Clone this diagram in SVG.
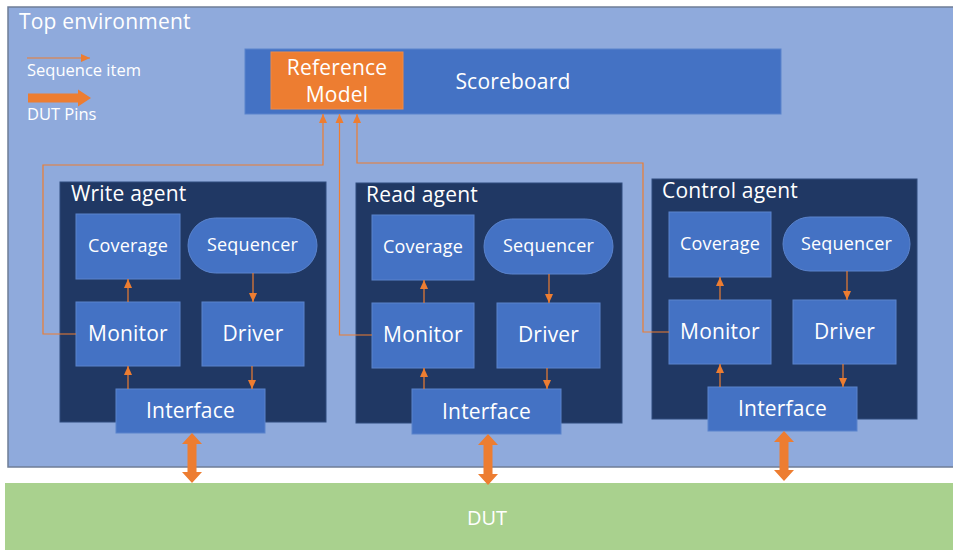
<svg xmlns="http://www.w3.org/2000/svg" width="953" height="550" viewBox="0 0 953 550">
  <style>
    text { font-family: "Open Sans", "Noto Sans", "Liberation Sans", sans-serif; fill: #ffffff; }
    .env { fill: #8FAADC; stroke: #6F7D97; stroke-width: 1.5; }
    .dut { fill: #A9D18E; }
    .agent { fill: #203864; stroke: #2F4B7C; stroke-width: 1; }
    .box { fill: #4472C4; stroke: #5A83CC; stroke-width: 1; }
    .ref { fill: #ED7D31; stroke: #F08A45; stroke-width: 1; }
    .title { font-size: 21px; letter-spacing: 0.2px; }
    .lbl { font-size: 21px; text-anchor: middle; letter-spacing: 0.2px; }
    .sm { font-size: 18px; text-anchor: middle; letter-spacing: 0.2px; }
    .leg { font-size: 16.5px; }
    .wire { fill: none; stroke: #ED7D31; stroke-width: 1.2; }
    .pin { fill: #ED7D31; }
  </style>
  <defs>
    <marker id="head" markerUnits="userSpaceOnUse" markerWidth="10" markerHeight="10" viewBox="0 0 10 10" refX="9" refY="5" orient="auto">
      <path d="M0,1 L9,5 L0,9 Z" fill="#ED7D31"/>
    </marker>
  </defs>

  <!-- DUT -->
  <g id="dut">
    <rect class="dut" x="5" y="483" width="960" height="70"/>
    <text x="487" y="525" style="font-size:20px;text-anchor:middle">DUT</text>
  </g>

  <!-- Top environment -->
  <g id="top-env">
    <rect class="env" x="8" y="7" width="960" height="460"/>
    <text class="title" x="19" y="29">Top environment</text>
  </g>

  <!-- Legend -->
  <g id="legend">
    <line class="wire" x1="27" y1="58" x2="90" y2="58" marker-end="url(#head)"/>
    <text class="leg" x="27" y="76">Sequence item</text>
    <polygon class="pin" points="28,93.5 78,93.5 78,89.5 91,98 78,106.5 78,102.5 28,102.5"/>
    <text class="leg" x="27" y="120">DUT Pins</text>
  </g>

  <!-- Scoreboard -->
  <g id="scoreboard">
    <rect class="box" x="245" y="49" width="536" height="65"/>
    <text class="lbl" x="513" y="89">Scoreboard</text>
  </g>
  <g id="reference-model">
    <rect class="ref" x="271" y="52" width="132" height="57"/>
    <text class="lbl" x="337" y="75">Reference</text>
    <text class="lbl" x="337" y="102">Model</text>
  </g>

  <!-- Write agent -->
  <g id="write-agent">
    <rect class="agent" x="60" y="182" width="266" height="240"/>
    <text class="title" x="71" y="201">Write agent</text>
  </g>
  <g id="write-coverage">
    <rect class="box" x="76" y="214" width="104" height="65"/>
    <text class="sm" x="128" y="252">Coverage</text>
  </g>
  <g id="write-sequencer">
    <rect class="box" x="188" y="218" width="129" height="55" rx="27.5"/>
    <text class="sm" x="252.5" y="251">Sequencer</text>
  </g>
  <g id="write-monitor">
    <rect class="box" x="76" y="302" width="104" height="64"/>
    <text class="lbl" x="128" y="341">Monitor</text>
  </g>
  <g id="write-driver">
    <rect class="box" x="202" y="302" width="102" height="64"/>
    <text class="lbl" x="253" y="341">Driver</text>
  </g>
  <g id="write-interface">
    <rect class="box" x="116" y="389" width="149" height="44"/>
    <text class="lbl" x="190.5" y="418">Interface</text>
  </g>

  <!-- Read agent -->
  <g id="read-agent">
    <rect class="agent" x="356" y="183" width="266" height="240"/>
    <text class="title" x="366" y="202">Read agent</text>
  </g>
  <g id="read-coverage">
    <rect class="box" x="372" y="215" width="102" height="65"/>
    <text class="sm" x="423" y="253">Coverage</text>
  </g>
  <g id="read-sequencer">
    <rect class="box" x="484" y="219" width="129" height="55" rx="27.5"/>
    <text class="sm" x="548.5" y="252">Sequencer</text>
  </g>
  <g id="read-monitor">
    <rect class="box" x="372" y="303" width="102" height="65"/>
    <text class="lbl" x="423" y="342">Monitor</text>
  </g>
  <g id="read-driver">
    <rect class="box" x="497" y="303" width="103" height="65"/>
    <text class="lbl" x="548.5" y="342">Driver</text>
  </g>
  <g id="read-interface">
    <rect class="box" x="412" y="389" width="149" height="45"/>
    <text class="lbl" x="486.5" y="419">Interface</text>
  </g>

  <!-- Control agent -->
  <g id="control-agent">
    <rect class="agent" x="652" y="179" width="265" height="240"/>
    <text class="title" x="662" y="198">Control agent</text>
  </g>
  <g id="control-coverage">
    <rect class="box" x="669" y="212" width="102" height="65"/>
    <text class="sm" x="720" y="250">Coverage</text>
  </g>
  <g id="control-sequencer">
    <rect class="box" x="783" y="217" width="127" height="54" rx="27"/>
    <text class="sm" x="846.5" y="250">Sequencer</text>
  </g>
  <g id="control-monitor">
    <rect class="box" x="669" y="300" width="102" height="64"/>
    <text class="lbl" x="720" y="339">Monitor</text>
  </g>
  <g id="control-driver">
    <rect class="box" x="793" y="300" width="103" height="64"/>
    <text class="lbl" x="844.5" y="339">Driver</text>
  </g>
  <g id="control-interface">
    <rect class="box" x="708" y="387" width="149" height="44"/>
    <text class="lbl" x="782.5" y="416">Interface</text>
  </g>

  <!-- Connectors -->
  <g id="connectors">
    <!-- monitors to scoreboard -->
    <path class="wire" d="M76,334 H43 V165 H323 V114" marker-end="url(#head)"/>
    <path class="wire" d="M372,335 H339.5 V114" marker-end="url(#head)"/>
    <path class="wire" d="M669,332 H643 V163 H357 V114" marker-end="url(#head)"/>

    <!-- write agent -->
    <path class="wire" d="M128,302 V279" marker-end="url(#head)"/>
    <path class="wire" d="M253,273 V302" marker-end="url(#head)"/>
    <path class="wire" d="M128,389 V366" marker-end="url(#head)"/>
    <path class="wire" d="M252,366 V389" marker-end="url(#head)"/>

    <!-- read agent -->
    <path class="wire" d="M424,303 V280" marker-end="url(#head)"/>
    <path class="wire" d="M549,274 V303" marker-end="url(#head)"/>
    <path class="wire" d="M424,389 V368" marker-end="url(#head)"/>
    <path class="wire" d="M547,368 V389" marker-end="url(#head)"/>

    <!-- control agent -->
    <path class="wire" d="M720,300 V277" marker-end="url(#head)"/>
    <path class="wire" d="M847,271 V300" marker-end="url(#head)"/>
    <path class="wire" d="M720,387 V364" marker-end="url(#head)"/>
    <path class="wire" d="M843,364 V387" marker-end="url(#head)"/>

    <!-- DUT pins -->
    <polygon class="pin" points="192,433 202,444 196.5,444 196.5,472 202,472 192,483 182,472 187.5,472 187.5,444 182,444"/>
    <polygon class="pin" points="488,434 498,445 492.5,445 492.5,474 498,474 488,485 478,474 483.5,474 483.5,445 478,445"/>
    <polygon class="pin" points="784,431 794,442 788.5,442 788.5,470 794,470 784,481 774,470 779.5,470 779.5,442 774,442"/>
  </g>
</svg>
